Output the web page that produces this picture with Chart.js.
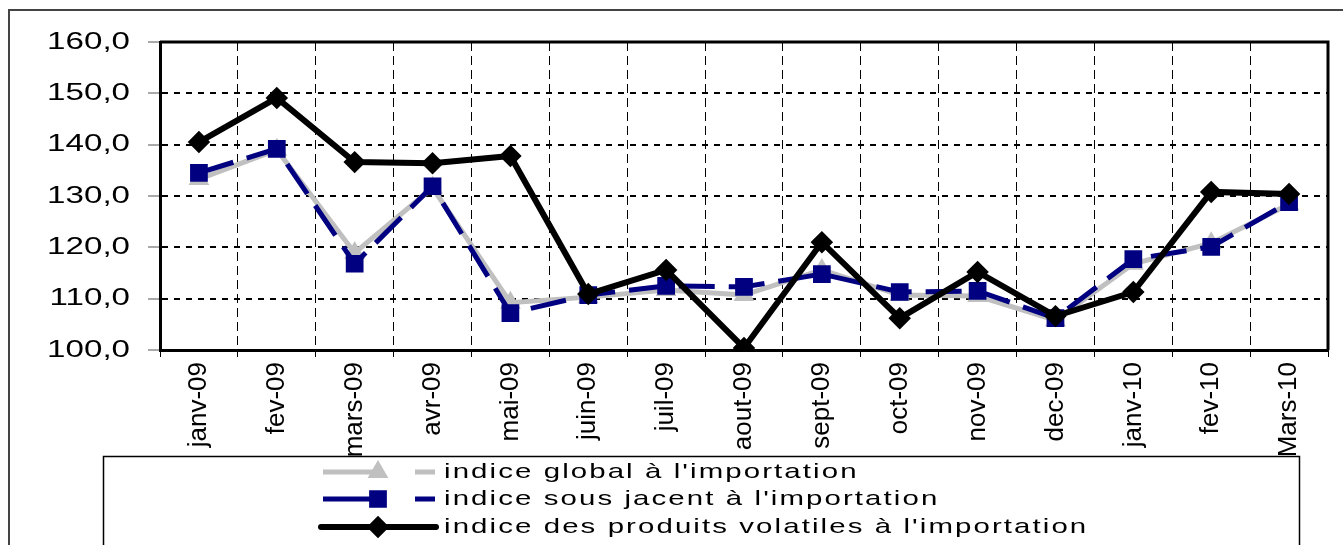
<!DOCTYPE html>
<html>
<head>
<meta charset="utf-8">
<script src="https://cdn.jsdelivr.net/npm/chart.js@4.4.0/dist/chart.umd.min.js"></script>
<style>
html, body { margin: 0; padding: 0; background: #fff; }
#wrap { width: 1343px; height: 545px; position: relative; }
</style>
</head>
<body>
<div id="wrap"><canvas id="chart"></canvas></div>
<script>
const months = ['janv-09', 'fev-09', 'mars-09', 'avr-09', 'mai-09', 'juin-09', 'juil-09', 'aout-09',
                'sept-09', 'oct-09', 'nov-09', 'dec-09', 'janv-10', 'fev-10', 'Mars-10'];
const indiceGlobal = [133.3, 139.0, 118.9, 131.6, 109.2, 110.3, 111.7, 110.7, 115.6, 110.7, 110.5, 105.8, 116.8, 120.8, 128.4];
const sousJacent = [134.5, 139.2, 116.8, 131.9, 107.2, 110.7, 112.5, 112.3, 114.8, 111.3, 111.5, 106.2, 117.7, 120.1, 128.8];
const volatiles = [140.5, 149.1, 136.6, 136.4, 137.8, 110.9, 115.6, 100.4, 121.0, 106.2, 115.2, 106.6, 111.3, 130.8, 130.4];
const seriesNames = ["indice global à l'importation", "indice sous jacent à l'importation", "indice des produits volatiles à l'importation"];
const yMin = 100;
const yMax = 160;
const yStep = 10;

function fmt(v) {
    return v.toFixed(1).replace('.', ',');
}

// y labels are anchored here and stretched sideways like the original
const yLabelEnd = 130;
const yStretch = 1.38;

const frame = {
    id: 'frame',
    beforeDraw(chart) {
        const ctx = chart.ctx;
        ctx.setTransform(1, 0, 0, 1, 0, 0);
        ctx.save();
        ctx.fillStyle = '#fff';
        ctx.fillRect(0, 0, chart.width, chart.height);
        ctx.strokeStyle = '#444';
        ctx.lineWidth = 2;
        ctx.beginPath();
        ctx.moveTo(9, chart.height);
        ctx.lineTo(9, 10);
        ctx.lineTo(chart.width, 10);
        ctx.stroke();
        ctx.restore();
    },
    // the y tick labels (z: 1) come right after this
    afterDatasetsDraw(chart) {
        chart.ctx.setTransform(yStretch, 0, 0, 1, yLabelEnd * (1 - yStretch), 0);
    },
    afterDraw(chart) {
        const ctx = chart.ctx;
        ctx.setTransform(1, 0, 0, 1, 0, 0);
        const a = chart.chartArea;
        ctx.save();
        ctx.strokeStyle = '#000';
        ctx.lineWidth = 3;
        ctx.beginPath();
        ctx.moveTo(a.left, a.top);
        ctx.lineTo(a.right, a.top);
        ctx.lineTo(a.right, a.bottom);
        ctx.stroke();
        ctx.restore();
    }
};

const legendBox = {
    id: 'legendBox',
    afterDraw(chart) {
        const ctx = chart.ctx;
        ctx.save();
        ctx.fillStyle = '#fff';
        ctx.fillRect(103, 456, 1196, 100);
        ctx.strokeStyle = '#000';
        ctx.lineWidth = 1.5;
        ctx.strokeRect(103.5, 456.5, 1196, 100);

        const rows = [472, 499, 527];
        const sets = chart.data.datasets;
        for (let i = 0; i < sets.length; i++) {
            const ds = sets[i];
            const y = rows[i];
            ctx.strokeStyle = ds.borderColor;
            ctx.fillStyle = ds.borderColor;
            ctx.lineWidth = ds.borderWidth;
            ctx.setLineDash([]);
            ctx.beginPath();
            if (i === 2) {
                ctx.lineCap = 'round';
                ctx.moveTo(321, y);
                ctx.lineTo(436, y);
            } else {
                ctx.lineCap = 'butt';
                ctx.moveTo(323, y);
                ctx.lineTo(378, y);
                ctx.moveTo(415, y);
                ctx.lineTo(435, y);
            }
            ctx.stroke();
            Chart.helpers.drawPoint(ctx, {
                pointStyle: ds.pointStyle,
                radius: ds.pointRadius,
                rotation: 0,
                borderWidth: 1
            }, 378, y);

            ctx.save();
            ctx.translate(444, y);
            ctx.scale(1.4, 1);
            ctx.fillStyle = '#000';
            ctx.font = '21px "Liberation Sans", Arial, sans-serif';
            ctx.letterSpacing = '1.5px';
            ctx.textBaseline = 'middle';
            ctx.textAlign = 'left';
            ctx.fillText(seriesNames[i], 0, 0);
            ctx.restore();
        }
        ctx.restore();
    }
};

new Chart(document.getElementById('chart'), {
    type: 'line',
    data: {
        labels: months,
        datasets: [
            {
                label: seriesNames[0],
                data: indiceGlobal,
                borderColor: '#c0c0c0',
                backgroundColor: '#c0c0c0',
                borderWidth: 5,
                pointStyle: 'triangle',
                pointRadius: 7,
                pointBorderColor: '#c0c0c0',
                pointBackgroundColor: '#c0c0c0',
                tension: 0,
                order: 2
            },
            {
                label: seriesNames[1],
                data: sousJacent,
                borderColor: '#000080',
                backgroundColor: '#000080',
                borderWidth: 5,
                borderDash: [36, 14],
                pointStyle: 'rect',
                pointRadius: 9,
                pointBorderColor: '#000080',
                pointBackgroundColor: '#000080',
                tension: 0,
                order: 1
            },
            {
                label: seriesNames[2],
                data: volatiles,
                borderColor: '#000000',
                backgroundColor: '#000000',
                borderWidth: 6,
                pointStyle: 'rectRot',
                pointRadius: 7,
                pointBorderColor: '#000000',
                pointBackgroundColor: '#000000',
                tension: 0,
                order: 0
            }
        ]
    },
    options: {
        responsive: true,
        maintainAspectRatio: false,
        animation: false,
        layout: { padding: { top: 42, right: 15, bottom: 0, left: 0 } },
        plugins: {
            legend: { display: false },
            tooltip: { enabled: false }
        },
        scales: {
            x: {
                offset: true,
                afterFit(scale) { scale.height = 195; },
                grid: {
                    offset: true,
                    color: '#000',
                    lineWidth: 1,
                    tickLength: 7,
                    tickColor: '#000',
                    tickWidth: 1
                },
                border: { display: true, color: '#000', width: 3, dash: [9, 5] },
                ticks: {
                    minRotation: 90,
                    maxRotation: 90,
                    autoSkip: false,
                    padding: 5,
                    color: '#000',
                    font: { family: '"Liberation Sans", Arial, sans-serif', size: 26 }
                }
            },
            y: {
                min: yMin,
                max: yMax,
                afterFit(scale) { scale.width = 160; },
                grid: {
                    color: '#000',
                    lineWidth: 2,
                    tickLength: 12,
                    tickColor: '#555',
                    tickWidth: 1
                },
                border: { display: true, color: '#000', width: 3, dash: [6, 6] },
                ticks: {
                    stepSize: yStep,
                    padding: 18,
                    color: '#000',
                    z: 1,
                    font: { family: '"Liberation Sans", Arial, sans-serif', size: 24 },
                    callback: (v) => fmt(v)
                }
            }
        }
    },
    plugins: [frame, legendBox]
});
</script>
</body>
</html>
